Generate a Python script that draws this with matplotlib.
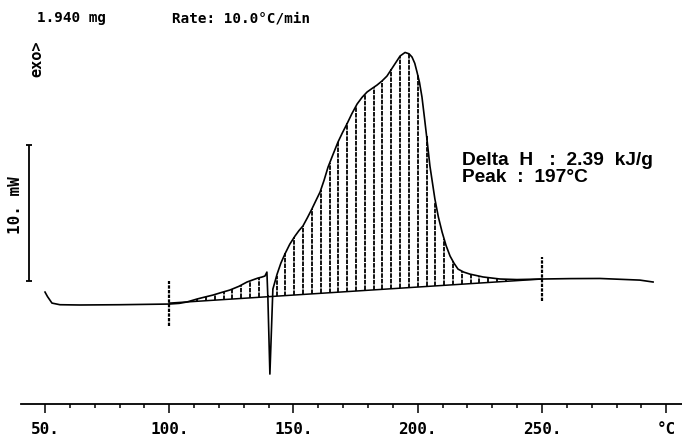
import numpy as np
import matplotlib
matplotlib.use("Agg")
import matplotlib.pyplot as plt

# DSC curve: temperature (degC) / heat flow (mW, arbitrary zero)
temp = [50.0, 51.0, 52.8, 56.0, 64.0, 80.0, 100.0, 104.0, 107.1, 111.2, 114.0,
        117.6, 121.0, 124.4, 128.0, 131.3, 134.0, 135.7, 137.2, 138.5, 139.3,
        139.7, 140.5, 141.7, 143.4, 144.9, 146.6, 148.5, 150.6, 152.2, 153.8,
        155.6, 157.4, 159.0, 160.7, 162.3, 163.9, 165.9, 167.9, 169.7, 171.5,
        173.5, 175.6, 177.6, 179.6, 181.6, 183.6, 185.6, 187.6, 190.0, 192.9,
        194.9, 196.5, 197.7, 198.8, 199.7, 200.7, 201.7, 202.7, 203.7, 204.9,
        206.9, 208.3, 209.8, 211.4, 213.0, 214.6, 216.2, 218.5, 221.0, 226.3,
        233.1, 239.9, 250.0, 261.3, 273.3, 289.4, 294.7]
heat = [0.88, 0.55, 0.07, -0.05, -0.07, -0.05, 0.0, 0.05, 0.15, 0.37, 0.5,
        0.66, 0.85, 1.03, 1.3, 1.62, 1.8, 1.91, 1.98, 2.06, 2.35,
        0.4, -5.15, 1.10, 2.2, 3.0, 3.7, 4.4, 5.0, 5.4, 5.74,
        6.35, 6.99, 7.6, 8.24, 9.1, 10.07, 11.0, 11.91, 12.6, 13.24,
        14.0, 14.71, 15.2, 15.59, 15.85, 16.10, 16.4, 16.76, 17.43, 18.24,
        18.5, 18.4, 18.16, 17.7, 17.06, 16.3, 15.22, 13.7, 12.13, 10.15,
        7.72, 6.4, 5.29, 4.3, 3.53, 3.0, 2.57, 2.35, 2.2, 1.99,
        1.84, 1.80, 1.84, 1.87, 1.88, 1.76, 1.62]

# integration limits and baseline end values
limit_t = [100.0, 250.0]
limit_h = [0.07, 1.84]

tick_major = [50, 100, 150, 200, 250, 300]
tick_labels = ["50.", "100.", "150.", "200.", "250.", "°C"]

sample_mass = "1.940 mg"
rate_text = "Rate: 10.0°C/min"
result_text = "Delta  H   :  2.39  kJ/g\nPeak  :  197°C"

W, H = 682, 439
fig = plt.figure(figsize=(W / 100, H / 100), dpi=100)
ax = fig.add_axes([0, 0, 1, 1])
ax.set_xlim(31.89, 306.34)
ax.set_ylim(-9.85, 22.43)

mono = "DejaVu Sans Mono"

# hatching between baseline and curve
hx = np.arange(100.6, 250.0, 3.55)
base = np.interp(hx, limit_t, limit_h)
top = np.interp(hx, temp, heat)
keep = top > base + 0.05
ax.vlines(hx[keep], base[keep], top[keep], color="black", lw=1.3,
          linestyles=(0, (2.5, 0.6)), zorder=2)

ax.plot(temp, heat, color="black", lw=1.2, zorder=3)
ax.plot(limit_t, limit_h, color="black", lw=1.1, zorder=3)

# integration limit markers
for t, h in zip(limit_t, limit_h):
    ax.vlines(t, h - 1.65, h + 1.65, color="black", lw=1.6,
              linestyles=(0, (1.5, 0.6)), zorder=4)

# 10 mW scale bar
ax.vlines(43.56, 1.69, 11.69, color="black", lw=1.3)
ax.hlines([1.69, 11.69], 42.4, 44.7, color="black", lw=1.3)

# temperature axis
for s in ["top", "left", "right"]:
    ax.spines[s].set_visible(False)
ax.spines["bottom"].set_position(("data", -7.35))
ax.spines["bottom"].set_bounds(40.2, 310)
ax.spines["bottom"].set_linewidth(1.3)
ax.set_yticks([])
ax.set_xticks(tick_major)
ax.set_xticklabels(tick_labels, family=mono, fontweight="bold", fontsize=11.5)
ax.set_xticks(np.arange(60, 300, 10), minor=True)
ax.tick_params(axis="x", which="major", direction="out", length=6.5, width=1.1, pad=6)
ax.tick_params(axis="x", which="minor", direction="out", length=3, width=1.1)
ax.patch.set_visible(False)

fig.text(37 / W, 1 - 18 / H, sample_mass, family=mono, fontweight="bold",
         fontsize=10.3, ha="left", va="center")
fig.text(172 / W, 1 - 18 / H, rate_text, family=mono, fontweight="bold",
         fontsize=10.3, ha="left", va="center")
fig.text(37 / W, 1 - 59 / H, "exo>", family=mono, fontweight="bold",
         fontsize=11, rotation=90, ha="center", va="center")
fig.text(15 / W, 1 - 205 / H, "10. mW", family=mono, fontweight="bold",
         fontsize=11.5, rotation=90, ha="center", va="center")
fig.text(462 / W, 1 - 169 / H, result_text, family="Liberation Sans",
         fontweight="bold", fontsize=13.8, ha="left", va="center",
         linespacing=1.05)

fig.savefig("out.png", dpi=100)
